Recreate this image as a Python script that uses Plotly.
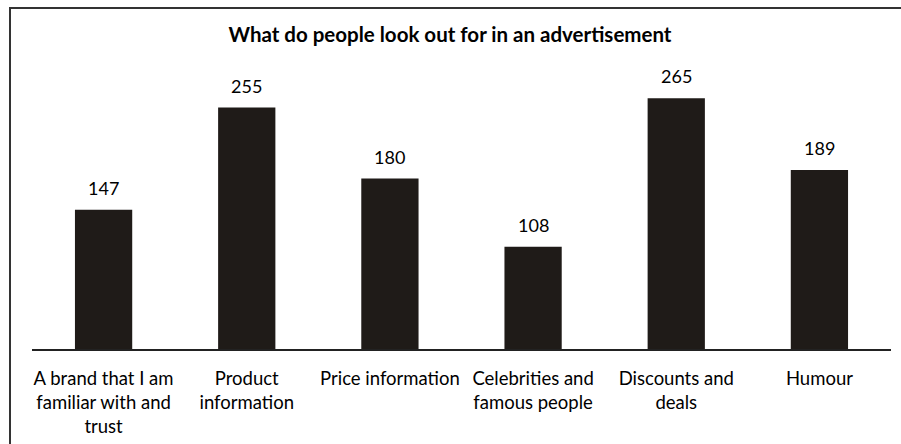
import plotly.graph_objects as go

categories = [
    "A brand that I am<br>familiar with and<br>trust",
    "Product<br>information",
    "Price information",
    "Celebrities and<br>famous people",
    "Discounts and<br>deals",
    "Humour",
]
values = [147, 255, 180, 108, 265, 189]
title_text = "What do people look out for in an advertisement"

W, H = 901, 444
ML, MR, MT, MB = 32, 10, 65, 94.5
plot_w = W - ML - MR
plot_h = H - MT - MB

bar_color = "#1f1b18"
font_family = "Lato, Calibri, Carlito, sans-serif"

fig = go.Figure()
fig.add_trace(go.Bar(
    x=categories,
    y=values,
    marker=dict(color=bar_color, line=dict(width=0)),
    width=0.4,
    hoverinfo="skip",
))

for c, v in zip(categories, values):
    fig.add_annotation(
        x=c, y=v, text=str(v), showarrow=False,
        yanchor="bottom", yshift=9,
        font=dict(family=font_family, size=18, color="#000000"),
    )

# outer chart border (extends past image right/bottom edges)
bx0 = (10 - ML) / plot_w
by1 = (H - MB - 8) / plot_h
fig.add_shape(
    type="rect", xref="paper", yref="paper",
    x0=bx0, x1=1.5, y0=-1.0, y1=by1,
    line=dict(color="#333333", width=2),
    fillcolor="rgba(0,0,0,0)", layer="below",
)

fig.update_layout(
    width=W, height=H,
    margin=dict(l=ML, r=MR, t=MT, b=MB, pad=0, autoexpand=False),
    paper_bgcolor="white", plot_bgcolor="white",
    showlegend=False,
    title=dict(
        text="<b>" + title_text + "</b>",
        x=450 / W, xanchor="center", xref="container",
        y=1 - 35 / H, yanchor="middle", yref="container",
        font=dict(family=font_family, size=20.5, color="#000000"),
    ),
    xaxis=dict(
        showline=True, linecolor="#222222", linewidth=2,
        ticks="", showgrid=False, zeroline=False,
        tickfont=dict(family=font_family, size=18.5, color="#000000"),
        ticklabelstandoff=12,
        automargin=False,
        fixedrange=True,
    ),
    yaxis=dict(
        range=[0, 300], visible=False, showgrid=False, zeroline=False,
        automargin=False,
        fixedrange=True,
    ),
    bargap=0.6,
)

fig.write_html("out.html", config={"displayModeBar": False})
